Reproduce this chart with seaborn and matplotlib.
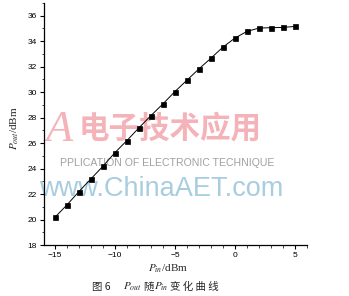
import matplotlib
matplotlib.use("Agg")
import matplotlib.pyplot as plt
from matplotlib.ticker import MultipleLocator
import seaborn as sns
import pandas as pd

# Data
p_in = [-15, -14, -13, -12, -11, -10, -9, -8, -7, -6, -5, -4, -3, -2, -1, 0, 1, 2, 3, 4, 5]
p_out = [20.17, 21.14, 22.19, 23.19, 24.18, 25.25, 26.2, 27.2, 28.16, 29.08, 30.05,
         30.94, 31.83, 32.67, 33.54, 34.25, 34.77, 35.03, 35.06, 35.08, 35.16]
x_ticks = [-15, -10, -5, 0, 5]
y_ticks = [18, 20, 22, 24, 26, 28, 30, 32, 34, 36]

df = pd.DataFrame({"Pin": p_in, "Pout": p_out})

sns.set_theme(style="ticks")
plt.rcParams["font.family"] = ["Liberation Sans", "Noto Sans CJK SC"]
plt.rcParams["mathtext.fontset"] = "stix"

fig = plt.figure(figsize=(3.49, 2.96), dpi=100)
ax = fig.add_axes([0.126, 0.172, 0.754, 0.818])

# Watermark (behind data)
fig.text(0.13, 0.56, "A", color="#f2a0a8", fontsize=32, style="italic",
         family="Liberation Serif", ha="left", va="center", alpha=0.8, zorder=-1)
fig.text(0.225, 0.565, "电子技术应用", color="#f2a0a8", fontsize=22,
         family=["Noto Sans CJK SC"], ha="left", va="center", fontweight="bold",
         alpha=0.8, zorder=-1)
fig.text(0.172, 0.45, "PPLICATION OF ELECTRONIC TECHNIQUE", color="#a0a0a0",
         fontsize=7.6, family="Liberation Sans", ha="left", va="center", zorder=-1)
fig.text(0.112, 0.36, "www.ChinaAET.com", color="#a8cde0", fontsize=19.5,
         family="Liberation Sans", ha="left", va="center", zorder=-1)

sns.lineplot(data=df, x="Pin", y="Pout", ax=ax, color="black", linewidth=0.7,
             marker="s", markersize=3.6, markeredgewidth=0.5, markeredgecolor="black",
             markerfacecolor="black", zorder=3)

ax.set_xlim(-15.9, 6)
ax.set_ylim(18, 37)
ax.set_xticks(x_ticks)
ax.set_yticks(y_ticks)
ax.xaxis.set_minor_locator(MultipleLocator(1))
ax.yaxis.set_minor_locator(MultipleLocator(1))
ax.tick_params(axis="both", which="major", direction="out", length=3, width=0.8,
               labelsize=6, pad=2, colors="black")
ax.tick_params(axis="both", which="minor", direction="out", length=1.8, width=0.6)
ax.spines["top"].set_visible(False)
ax.spines["right"].set_visible(False)
for s in ("left", "bottom"):
    ax.spines[s].set_linewidth(0.9)
    ax.spines[s].set_color("black")
ax.set_facecolor("none")
ax.patch.set_alpha(0)
ax.set_xlabel("")
ax.set_ylabel("")

fig.text(0.043, 0.567, r"$P_{out}$/dBm", rotation=90, fontsize=8,
         family="Liberation Serif", ha="center", va="center")
fig.text(0.482, 0.091, r"$P_{in}$/dBm", fontsize=8,
         family="Liberation Serif", ha="center", va="center")

# Caption
cy = 0.03
fig.text(0.263, cy, "图 6", fontsize=7.5, family=["Noto Sans CJK SC"], ha="left", va="center")
fig.text(0.352, cy, r"$P_{out}$", fontsize=8, ha="left", va="center")
fig.text(0.410, cy, "随", fontsize=7.5, family=["Noto Sans CJK SC"], ha="left", va="center")
fig.text(0.442, cy, r"$P_{in}$", fontsize=8, ha="left", va="center")
fig.text(0.488, cy, "变 化 曲 线", fontsize=7.5, family=["Noto Sans CJK SC"], ha="left", va="center")

fig.savefig("out.png", dpi=100, facecolor="white")
